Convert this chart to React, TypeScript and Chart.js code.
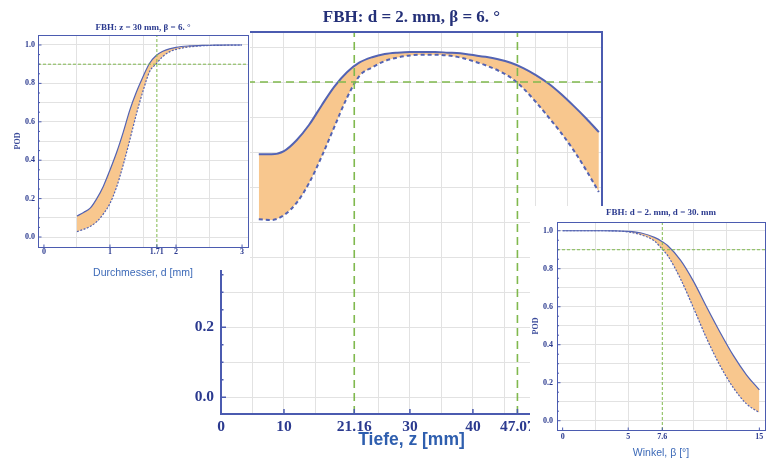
import React, { useEffect, useRef } from 'react';
import { Chart, registerables } from 'chart.js';

Chart.register(...registerables);

const SERIF = '"Liberation Serif", "Times New Roman", Times, serif';
const SANS = '"Liberation Sans", Arial, Helvetica, sans-serif';

const CURVE = '#5363b3';
const FILL = '#f8c78e';
const GREEN = '#80b94e';
const GRID = '#e2e2e2';
const FRAME = '#4b5bb0';
const TICK_TEXT = '#2b3a8f';

// ---------- shared ----------
const podThreshold = 0.9;
const podLabelTicks = [0, 0.2, 0.4, 0.6, 0.8, 1.0];
const podGridY = [0, 0.1, 0.2, 0.3, 0.4, 0.5, 0.6, 0.7, 0.8, 0.9, 1.0];
const podMinorTicks = [0.05, 0.1, 0.15, 0.25, 0.3, 0.35, 0.45, 0.5, 0.55, 0.65, 0.7, 0.75, 0.85, 0.9, 0.95];

// ---------- main chart: POD vs depth ----------
const depthZ = [6, 8, 10, 12, 14, 16, 18, 20, 22, 24, 26, 28, 30, 32, 34, 36, 38, 40, 42, 44, 46, 48, 50, 52, 54, 56, 58, 60];
const podDepthUpper = [0.694, 0.694, 0.703, 0.734, 0.778, 0.834, 0.887, 0.928, 0.956, 0.971, 0.98, 0.984, 0.986, 0.986, 0.986, 0.984, 0.982, 0.977, 0.972, 0.965, 0.955, 0.94, 0.92, 0.896, 0.866, 0.832, 0.796, 0.757];
const podDepthLower = [0.508, 0.506, 0.52, 0.555, 0.612, 0.688, 0.772, 0.855, 0.918, 0.942, 0.96, 0.97, 0.976, 0.978, 0.978, 0.976, 0.97, 0.96, 0.948, 0.933, 0.913, 0.882, 0.843, 0.8, 0.755, 0.705, 0.648, 0.586];
const depthLabelTicks = [0, 10, 21.16, 30, 40, 47.07];
const depthGridX = [5, 10, 15, 25, 30, 35, 40, 45, 50, 55];
const depthThresholds = [21.16, 47.07];

// ---------- left inset: POD vs diameter ----------
const diamD = [0.5, 0.6, 0.7, 0.8, 0.9, 1.0, 1.1, 1.2, 1.3, 1.4, 1.5, 1.6, 1.7, 1.8, 1.9, 2.0, 2.2, 2.4, 2.6, 2.8, 3.0];
const podDiamUpper = [0.109, 0.128, 0.15, 0.2, 0.265, 0.349, 0.44, 0.545, 0.661, 0.755, 0.835, 0.905, 0.945, 0.967, 0.98, 0.988, 0.995, 0.998, 0.999, 1.0, 1.0];
const podDiamLower = [0.028, 0.04, 0.055, 0.08, 0.12, 0.175, 0.26, 0.375, 0.505, 0.64, 0.76, 0.861, 0.902, 0.94, 0.964, 0.977, 0.99, 0.996, 0.998, 0.999, 1.0];
const diamLabelTicks = [0, 1, 1.71, 2, 3];
const diamGridX = [0.5, 1, 1.5, 2, 2.5];
const diamThresholds = [1.71];

// ---------- right inset: POD vs angle ----------
const angleB = [0, 1, 2, 3, 4, 5, 6, 7, 7.6, 8, 9, 10, 11, 12, 13, 14, 15];
const podAngleUpper = [1, 1, 1, 1, 0.999, 0.997, 0.988, 0.965, 0.942, 0.922, 0.844, 0.731, 0.596, 0.466, 0.345, 0.243, 0.162];
const podAngleLower = [1, 1, 1, 1, 0.999, 0.994, 0.978, 0.946, 0.902, 0.87, 0.745, 0.59, 0.43, 0.29, 0.175, 0.09, 0.042];
const angleLabelTicks = [0, 5, 7.6, 15];
const angleGridX = [2.5, 5, 10, 12.5];
const angleThresholds = [7.6];

const frameTicksPlugin = {
  id: 'frameTicks',
  beforeDraw(chart: any, _a: any, o: any) {
    if (!o || !o.mask) return;
    const ctx = chart.ctx;
    ctx.save();
    ctx.fillStyle = '#ffffff';
    o.mask.forEach((r: number[]) => ctx.fillRect(r[0], r[1], r[2], r[3]));
    ctx.restore();
  },
  afterDatasetsDraw(chart: any, _a: any, o: any) {
    const { ctx, chartArea: a, scales } = chart;
    const sx = scales.x;
    const sy = scales.y;
    ctx.save();
    ctx.strokeStyle = o.color;
    ctx.lineWidth = o.width;
    const off = o.width % 2 === 1 ? 0.5 : 0;
    const L = Math.round(a.left) + off;
    const T = Math.round(a.top) + off;
    const R = Math.round(a.right) + off;
    const B = Math.round(a.bottom) + off;
    ctx.strokeRect(L, T, R - L, B - T);
    ctx.lineWidth = o.tickWidth;
    ctx.beginPath();
    o.xMajor.forEach((v: number) => {
      const px = sx.getPixelForValue(v);
      ctx.moveTo(px, B);
      ctx.lineTo(px, B - o.majorLen);
    });
    o.yMajor.forEach((v: number) => {
      const py = sy.getPixelForValue(v);
      ctx.moveTo(L, py);
      ctx.lineTo(L + o.majorLen, py);
    });
    o.yMinor.forEach((v: number) => {
      const py = sy.getPixelForValue(v);
      ctx.moveTo(L, py);
      ctx.lineTo(L + o.minorLen, py);
    });
    ctx.stroke();
    ctx.restore();
  },
};

function fmtX(v: number) {
  return String(v);
}
function fmtY(v: number) {
  return v.toFixed(1);
}

function buildConfig(p: any) {
  const s = p.style;
  const pts = (ys: number[]) => p.xs.map((x: number, i: number) => ({ x, y: ys[i] }));
  const xTicksAll = Array.from(new Set([...p.xLabels, ...p.xGrid])).sort((a: any, b: any) => a - b);
  const yTicksAll = Array.from(new Set([...p.yLabels, ...p.yGrid])).sort((a: any, b: any) => a - b);
  const greenSets = [
    ...p.xThresholds.map((v: number) => ({ data: [{ x: v, y: p.yMin }, { x: v, y: p.yMax }] })),
    { data: [{ x: p.xMin, y: podThreshold }, { x: p.xMax, y: podThreshold }] },
  ].map((d: any) => ({
    ...d,
    borderColor: GREEN,
    borderWidth: s.greenWidth,
    borderDash: s.greenDash,
    pointRadius: 0,
    fill: false,
    order: -1,
  }));

  const tickFont = { family: SERIF, size: s.tickSize, weight: 'bold', lineHeight: 1.2 };

  return {
    type: 'line',
    data: {
      datasets: [
        {
          label: 'upper',
          data: pts(p.upper),
          borderColor: CURVE,
          borderWidth: s.curveWidth,
          pointRadius: 0,
          fill: '+1',
          backgroundColor: FILL,
          cubicInterpolationMode: 'monotone',
        },
        {
          label: 'lower',
          data: pts(p.lower),
          borderColor: CURVE,
          borderWidth: s.curveWidth,
          borderDash: s.curveDash,
          pointRadius: 0,
          fill: false,
          cubicInterpolationMode: 'monotone',
        },
        ...greenSets,
      ],
    },
    options: {
      animation: false,
      responsive: false,
      devicePixelRatio: 1,
      layout: { padding: { left: 0, top: 0, right: s.padRight, bottom: 0 } },
      plugins: {
        legend: { display: false },
        tooltip: { enabled: false },
        filler: { drawTime: 'beforeDatasetsDraw' },
        title: {
          display: true,
          text: p.title,
          color: s.titleColor,
          fullSize: false,
          font: { family: SERIF, size: s.titleSize, weight: 'bold', lineHeight: 1.2 },
          padding: { top: s.titlePadTop, bottom: s.titlePadBottom },
        },
        frameTicks: {
          mask: s.mask,
          color: FRAME,
          width: s.frameWidth,
          tickWidth: s.tickWidth,
          majorLen: s.majorLen,
          minorLen: s.minorLen,
          xMajor: p.xLabels,
          yMajor: p.yLabels,
          yMinor: p.yMinor,
        },
      },
      scales: {
        x: {
          type: 'linear',
          min: p.xMin,
          max: p.xMax,
          afterBuildTicks: (sc: any) => {
            sc.ticks = xTicksAll.map((v: any) => ({ value: v }));
          },
          afterFit: (sc: any) => {
            sc.height = s.xAxisHeight;
          },
          border: { display: false },
          grid: {
            drawTicks: false,
            lineWidth: 1,
            color: (c: any) => (c.tick && p.xGrid.includes(c.tick.value) ? GRID : 'rgba(0,0,0,0)'),
          },
          ticks: {
            autoSkip: false,
            maxRotation: 0,
            minRotation: 0,
            padding: s.xTickPad,
            color: TICK_TEXT,
            font: tickFont,
            callback: (v: any) => (p.xLabels.includes(v) ? fmtX(v) : ''),
          },
          title: {
            display: true,
            text: p.xTitle,
            color: s.xTitleColor,
            font: { family: SANS, size: s.xTitleSize, weight: s.xTitleWeight, lineHeight: 1.2 },
            padding: { top: 0, bottom: s.xTitlePadBottom },
          },
        },
        y: {
          type: 'linear',
          min: p.yMin,
          max: p.yMax,
          afterBuildTicks: (sc: any) => {
            sc.ticks = yTicksAll.map((v: any) => ({ value: v }));
          },
          afterFit: (sc: any) => {
            sc.width = s.yAxisWidth;
          },
          border: { display: false },
          grid: {
            drawTicks: false,
            lineWidth: 1,
            color: (c: any) => (c.tick && p.yGrid.includes(c.tick.value) ? GRID : 'rgba(0,0,0,0)'),
          },
          ticks: {
            autoSkip: false,
            padding: s.yTickPad,
            color: TICK_TEXT,
            font: tickFont,
            callback: (v: any) => (p.yLabels.includes(v) ? fmtY(v) : ''),
          },
          title: {
            display: !!p.yTitle,
            text: p.yTitle || '',
            color: '#3a4a9a',
            font: { family: SERIF, size: s.yTitleSize || 8, weight: 'bold', lineHeight: 1.2 },
            padding: { top: s.yTitlePadTop || 0, bottom: 0 },
          },
        },
      },
    },
    plugins: [frameTicksPlugin],
  };
}

const mainSpec = {
  xs: depthZ,
  upper: podDepthUpper,
  lower: podDepthLower,
  xMin: 0,
  xMax: 60.5,
  yMin: -0.048,
  yMax: 1.043,
  xLabels: depthLabelTicks,
  xGrid: depthGridX,
  xThresholds: depthThresholds,
  yLabels: podLabelTicks,
  yGrid: podGridY,
  yMinor: podMinorTicks,
  title: 'FBH: d = 2. mm, β = 6. °',
  xTitle: 'Tiefe, z [mm]',
  style: {
    padRight: 168,
    yAxisWidth: 221,
    xAxisHeight: 45,
    titleSize: 17,
    titleColor: '#243078',
    titlePadTop: 7,
    titlePadBottom: 4.6,
    tickSize: 15.5,
    xTickPad: 3.7,
    yTickPad: 7,
    xTitleSize: 17.5,
    xTitleWeight: 'bold',
    xTitleColor: '#2e5eae',
    xTitlePadBottom: 8.5,
    frameWidth: 2,
    tickWidth: 1.5,
    majorLen: 5,
    minorLen: 2.5,
    curveWidth: 2,
    curveDash: [4, 3],
    greenWidth: 1.6,
    greenDash: [8, 5],
    mask: null,
  },
};

const diamSpec = {
  xs: diamD,
  upper: podDiamUpper,
  lower: podDiamLower,
  xMin: -0.09,
  xMax: 3.09,
  yMin: -0.052,
  yMax: 1.052,
  xLabels: diamLabelTicks,
  xGrid: diamGridX,
  xThresholds: diamThresholds,
  yLabels: podLabelTicks,
  yGrid: podGridY,
  yMinor: podMinorTicks,
  title: 'FBH: z = 30 mm, β = 6. °',
  xTitle: 'Durchmesser, d [mm]',
  yTitle: 'POD',
  style: {
    padRight: 2,
    yAxisWidth: 38,
    xAxisHeight: 35,
    titleSize: 9,
    titleColor: '#2b3a8f',
    titlePadTop: 22.6,
    titlePadBottom: 1.6,
    tickSize: 8,
    xTickPad: 0.5,
    yTickPad: 3,
    xTitleSize: 10.5,
    xTitleWeight: 'normal',
    xTitleColor: '#3d6ab8',
    xTitlePadBottom: 2.7,
    yTitleSize: 8,
    yTitlePadTop: 13.2,
    frameWidth: 1,
    tickWidth: 1,
    majorLen: 3,
    minorLen: 1.5,
    curveWidth: 1.2,
    curveDash: [2, 1.5],
    greenWidth: 1,
    greenDash: [3, 2],
    mask: [
      [0, 0, 250, 270],
      [0, 270, 215, 12],
    ],
  },
};

const angleSpec = {
  xs: angleB,
  upper: podAngleUpper,
  lower: podAngleLower,
  xMin: -0.43,
  xMax: 15.43,
  yMin: -0.049,
  yMax: 1.046,
  xLabels: angleLabelTicks,
  xGrid: angleGridX,
  xThresholds: angleThresholds,
  yLabels: podLabelTicks,
  yGrid: podGridY,
  yMinor: podMinorTicks,
  title: 'FBH: d = 2. mm, d = 30. mm',
  xTitle: 'Winkel, β [°]',
  yTitle: 'POD',
  style: {
    padRight: 5,
    yAxisWidth: 27,
    xAxisHeight: 29,
    titleSize: 9,
    titleColor: '#2b3a8f',
    titlePadTop: 1.6,
    titlePadBottom: 3.6,
    tickSize: 8,
    xTickPad: 2.2,
    yTickPad: 4,
    xTitleSize: 10.5,
    xTitleWeight: 'normal',
    xTitleColor: '#3d6ab8',
    xTitlePadBottom: 0,
    yTitleSize: 8,
    yTitlePadTop: 1.2,
    frameWidth: 1,
    tickWidth: 1,
    majorLen: 3,
    minorLen: 1.5,
    curveWidth: 1.2,
    curveDash: [2, 1.5],
    greenWidth: 1,
    greenDash: [3, 2],
    mask: [[0, 0, 240, 253]],
  },
};

function Panel({ spec, left, top, width, height }: any) {
  const ref = useRef<HTMLCanvasElement>(null);
  useEffect(() => {
    const chart = new Chart(ref.current as HTMLCanvasElement, buildConfig(spec) as any);
    return () => chart.destroy();
  }, [spec]);
  return (
    <canvas
      ref={ref}
      width={width}
      height={height}
      style={{ position: 'absolute', left, top, width, height, display: 'block' }}
    />
  );
}

export default function App() {
  return (
    <div style={{ position: 'fixed', left: 0, top: 0, width: 770, height: 459, background: '#ffffff', overflow: 'hidden' }}>
      <Panel spec={mainSpec} left={0} top={0} width={770} height={459} />
      <Panel spec={diamSpec} left={0} top={0} width={250} height={282} />
      <Panel spec={angleSpec} left={530} top={206} width={240} height={253} />
    </div>
  );
}
